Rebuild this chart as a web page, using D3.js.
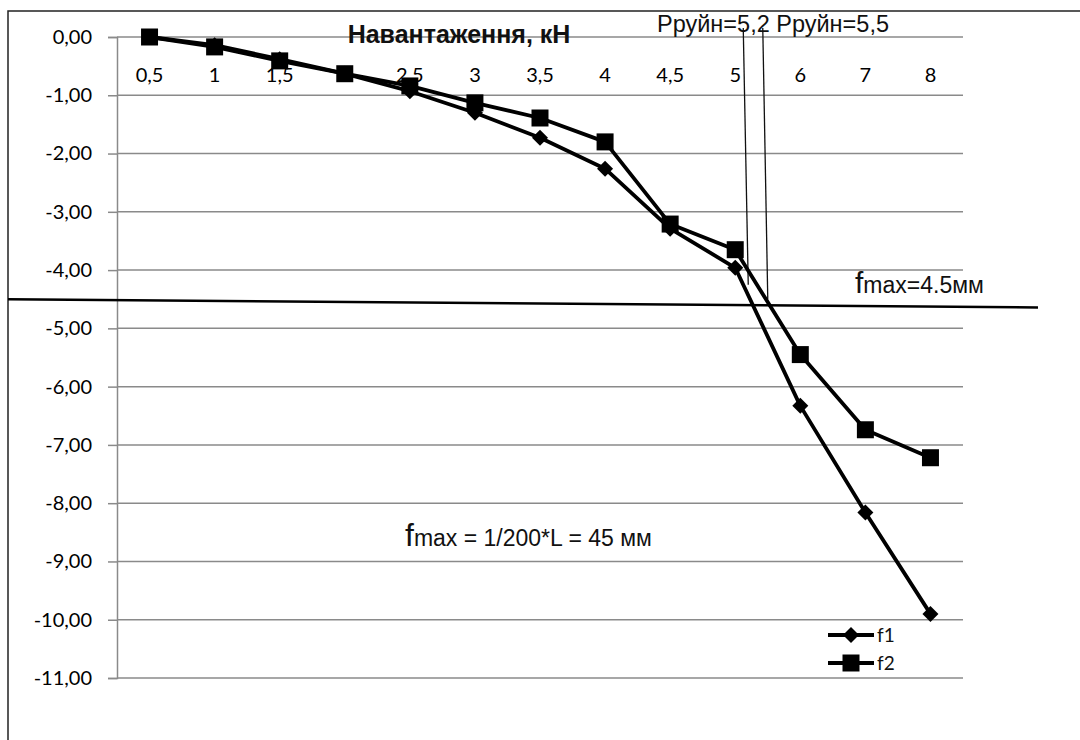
<!DOCTYPE html>
<html><head><meta charset="utf-8">
<script src="https://cdn.jsdelivr.net/npm/d3@7"></script>
<style>body{margin:0;background:#fff}svg{display:block}</style>
</head><body>
<script>
const categories = ["0,5","1","1,5","2","2,5","3","3,5","4","4,5","5","6","7","8"];
const f1 = [0, -0.14, -0.38, -0.63, -0.93, -1.30, -1.73, -2.26, -3.29, -3.96, -6.33, -8.16, -9.90];
const f2 = [0, -0.17, -0.41, -0.63, -0.84, -1.13, -1.39, -1.80, -3.21, -3.65, -5.45, -6.74, -7.22];
const yTicks = [0,-1,-2,-3,-4,-5,-6,-7,-8,-9,-10,-11];
const ruinLoads = [5.2, 5.5];
const ruinBottoms = [-4.25, -4.5];
const fmaxLine = [-4.5, -4.64];

const W = 1080, H = 740;
const svg = d3.select("body").append("svg").attr("width", W).attr("height", H);
const L = 117, R = 963, T = 37, B = 678;
const x = d3.scaleBand().domain(categories).range([L, R]);
const y = d3.scaleLinear().domain([0, -11]).range([T, B]);
const cx = c => x(c) + x.bandwidth() / 2;
const xLoad = v => cx("5") + (v - 5) * (cx("6") - cx("5"));
const LABEL_FONT = "Lato, 'Open Sans', sans-serif";
const ARIAL = "'Liberation Sans', Arial, sans-serif";

// outer border
svg.append("rect").attr("x", 8).attr("y", 11).attr("width", W).attr("height", H)
  .attr("fill", "none").attr("stroke", "#222").attr("stroke-width", 1.5);

// gridlines
svg.append("g").selectAll("line").data(yTicks).join("line")
  .attr("x1", L).attr("x2", R).attr("y1", d => y(d)).attr("y2", d => y(d))
  .attr("stroke", "#8a8a8a").attr("stroke-width", 1.5);

// y axis
const yAxis = d3.axisLeft(y).tickValues(yTicks).tickSize(9)
  .tickFormat(d => d3.format(".2f")(d).replace(".", ",").replace("−", "-"));
const gy = svg.append("g").attr("transform", `translate(${L},0)`).call(yAxis);
gy.select(".domain").attr("stroke", "#8a8a8a").attr("stroke-width", 1.5);
gy.selectAll(".tick line").attr("stroke", "#8a8a8a").attr("stroke-width", 1.5);
gy.selectAll("text").attr("font-family", LABEL_FONT).attr("font-size", 20)
  .attr("fill", "#000").attr("x", -25);

// x category labels
const xAxis = d3.axisBottom(x).tickSize(0).tickPadding(0);
const gx = svg.append("g").attr("transform", `translate(0,${y(-0.65)})`).call(xAxis);
gx.select(".domain").remove();
gx.selectAll("text").attr("font-family", LABEL_FONT).attr("font-size", 20)
  .attr("fill", "#000").attr("dy", "0.35em").attr("y", 0);

// axis title
svg.append("text").attr("x", 459).attr("y", 43).attr("text-anchor", "middle")
  .attr("font-family", ARIAL).attr("font-weight", "bold")
  .attr("font-size", 25).attr("fill", "#111").text("Навантаження, кН");

// ruin annotations
svg.append("text").attr("x", 657).attr("y", 32)
  .attr("font-family", ARIAL).attr("font-size", 23.5)
  .attr("fill", "#111").text("Рруйн=5,2 Рруйн=5,5");
svg.append("g").selectAll("line").data(ruinLoads).join("line")
  .attr("x1", d => xLoad(d) - 5).attr("y1", 28)
  .attr("x2", d => xLoad(d)).attr("y2", (d, i) => y(ruinBottoms[i]))
  .attr("stroke", "#111").attr("stroke-width", 1.3);

// series
const series = [{name: "f1", values: f1, shape: "diamond"}, {name: "f2", values: f2, shape: "square"}];
const line = d3.line().x((d, i) => cx(categories[i])).y(d => y(d));
series.forEach(s => {
  svg.append("path").datum(s.values).attr("d", line).attr("fill", "none")
    .attr("stroke", "#000").attr("stroke-width", 3.8).attr("stroke-linejoin", "round");
});
const markerPath = shape => shape === "diamond"
  ? d3.symbol().type(d3.symbolSquare).size(128)()
  : d3.symbol().type(d3.symbolSquare).size(289)();
const markerRot = shape => shape === "diamond" ? " rotate(45)" : "";
series.forEach(s => {
  svg.append("g").selectAll("path").data(s.values).join("path")
    .attr("transform", (d, i) => `translate(${cx(categories[i])},${y(d)})${markerRot(s.shape)}`)
    .attr("d", markerPath(s.shape))
    .attr("fill", "#000");
});

// fmax line
svg.append("line").attr("x1", 8).attr("y1", y(fmaxLine[0])).attr("x2", 1038).attr("y2", y(fmaxLine[1]))
  .attr("stroke", "#000").attr("stroke-width", 2.5);
const t1 = svg.append("text").attr("x", 855).attr("y", 293)
  .attr("font-family", ARIAL).attr("fill", "#111");
t1.append("tspan").attr("font-size", 30).text("f");
t1.append("tspan").attr("font-size", 23).text("max=4.5мм");

const t2 = svg.append("text").attr("x", 405).attr("y", 546)
  .attr("font-family", ARIAL).attr("fill", "#111");
t2.append("tspan").attr("font-size", 32).text("f");
t2.append("tspan").attr("font-size", 23).text("max = 1/200*L = 45 мм");

// legend
const leg = svg.append("g");
series.forEach((s, i) => {
  const ly = 635 + i * 28;
  leg.append("line").attr("x1", 828).attr("x2", 874).attr("y1", ly).attr("y2", ly)
    .attr("stroke", "#000").attr("stroke-width", 3.8);
  leg.append("path").attr("transform", `translate(851,${ly})${markerRot(s.shape)}`)
    .attr("d", markerPath(s.shape))
    .attr("fill", "#000");
  leg.append("text").attr("x", 877).attr("y", ly).attr("dy", "0.35em")
    .attr("font-family", LABEL_FONT).attr("font-size", 19).attr("fill", "#111")
    .text(s.name);
});
</script>
</body></html>
